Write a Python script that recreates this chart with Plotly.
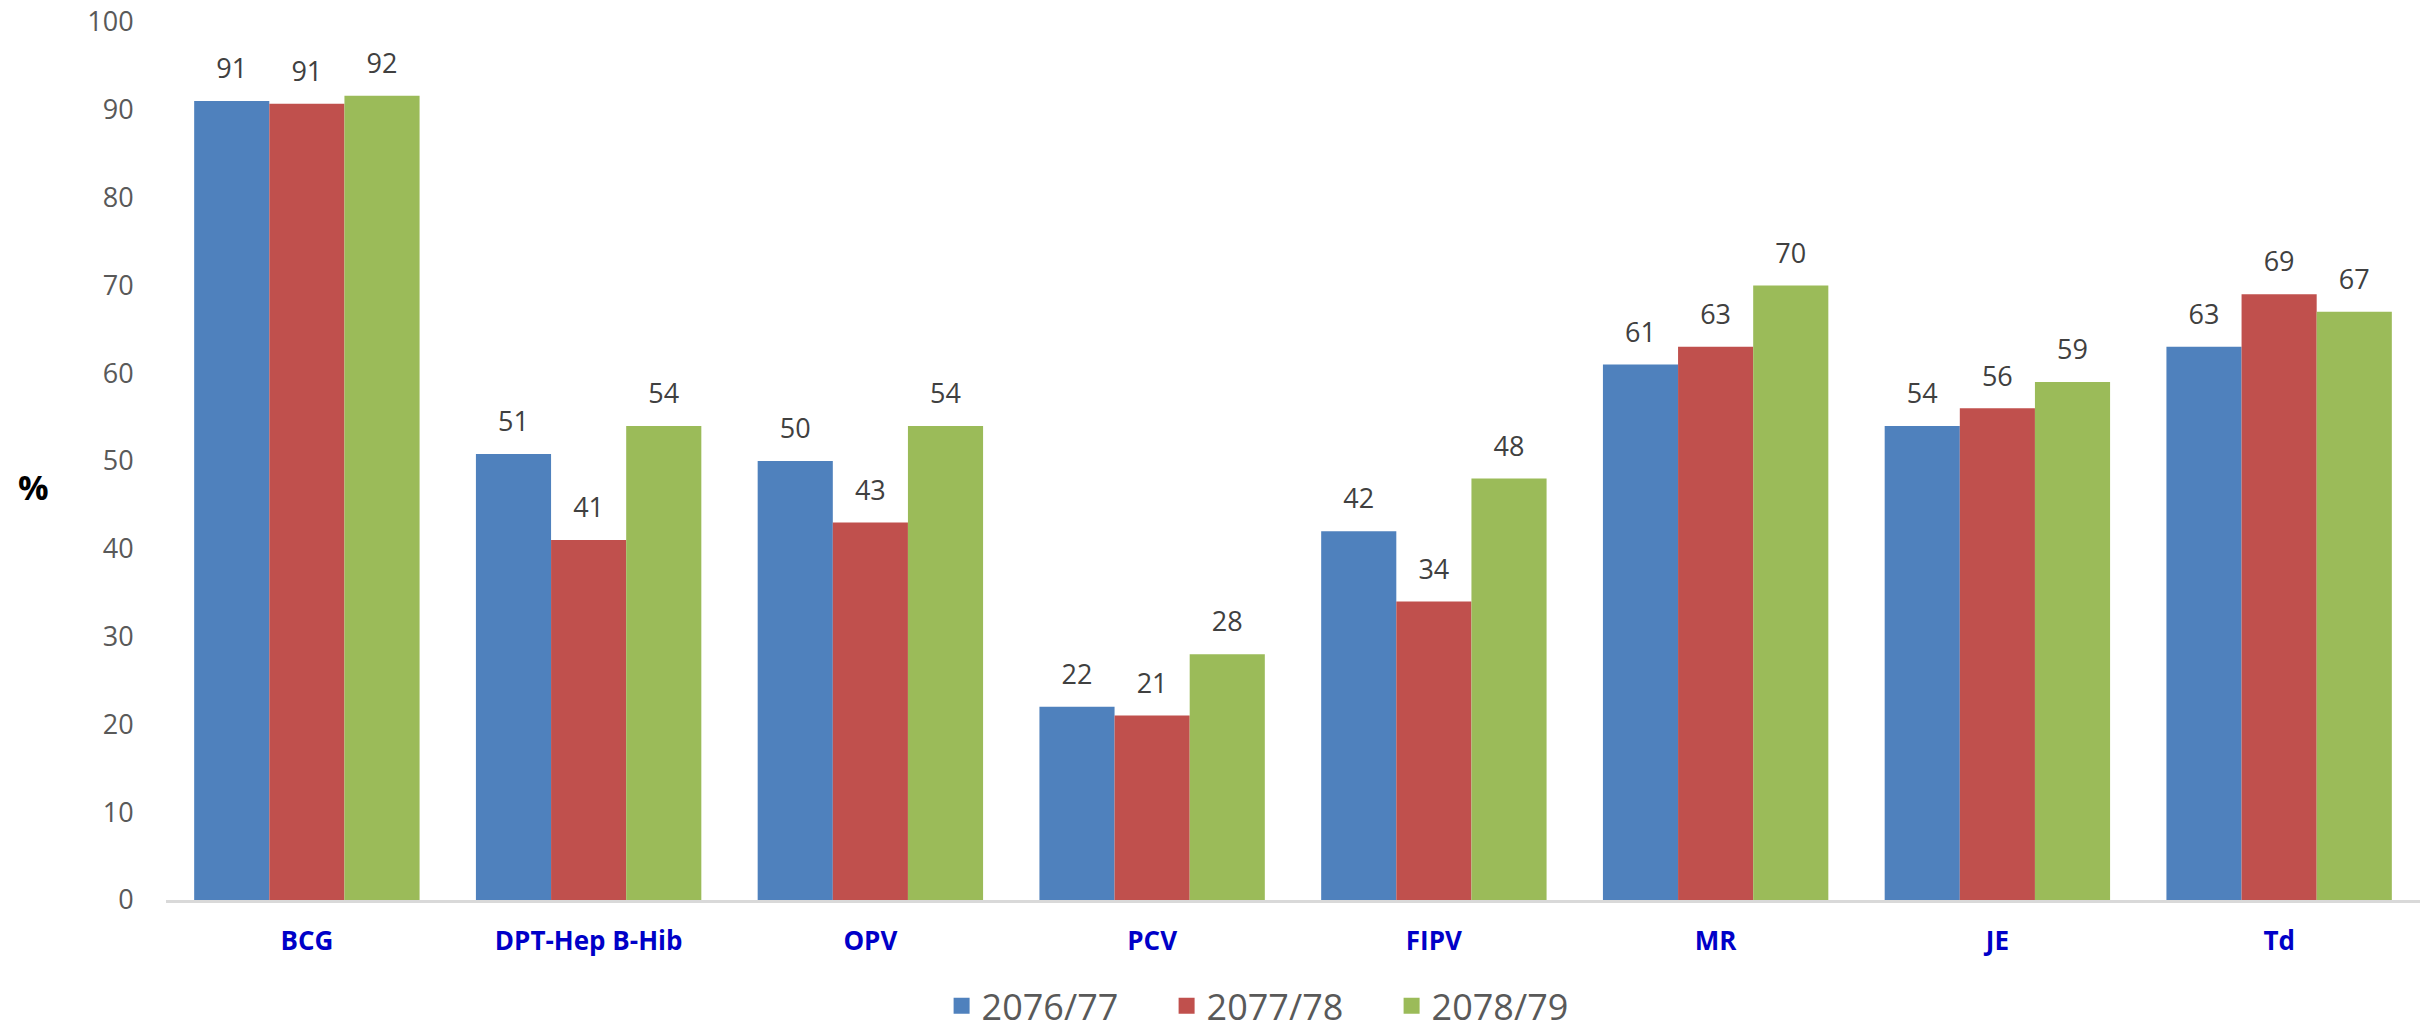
import plotly.graph_objects as go

categories = ["BCG", "DPT-Hep B-Hib", "OPV", "PCV", "FIPV", "MR", "JE", "Td"]
series_names = ["2076/77", "2077/78", "2078/79"]
v_2076 = [91.0, 50.8, 50, 22, 42, 61, 54, 63]
v_2077 = [90.7, 41, 43, 21, 34, 63, 56, 69]
v_2078 = [91.6, 54, 54, 28, 48, 70, 59, 67]
colors = ["#4F81BD", "#C0504D", "#9BBB59"]

fig = go.Figure()
all_vals = [v_2076, v_2077, v_2078]
for name, vals, col in zip(series_names, all_vals, colors):
    fig.add_trace(go.Bar(
        x=categories, y=vals, name=name, showlegend=False,
        marker=dict(color=col, line=dict(width=0)),
        hoverinfo="skip",
    ))
# data labels aligned with grouped bars
for name, vals in zip(series_names, all_vals):
    fig.add_trace(go.Scatter(
        x=categories, y=vals, mode="text+markers", showlegend=False,
        texttemplate="%{y:.0f}", textposition="top center",
        textfont=dict(family="Open Sans", size=27, color="#404040"),
        marker=dict(size=24, color="rgba(0,0,0,0)"), cliponaxis=False, hoverinfo="skip",
    ))
# legend entries (large square swatches)
for name, col in zip(series_names, colors):
    fig.add_trace(go.Scatter(
        x=[None], y=[None], mode="markers", name=name, showlegend=True,
        marker=dict(symbol="square", size=24, color=col),
        xaxis="x2", yaxis="y2",
    ))

fig.update_layout(
    width=2427, height=1030,
    margin=dict(l=166, r=7, t=22, b=130, autoexpand=False),
    paper_bgcolor="white", plot_bgcolor="white",
    barmode="group", bargap=0.2, bargroupgap=0,
    scattermode="group", scattergap=0.2,
    showlegend=True,
    legend=dict(orientation="h", x=0.3441, xanchor="left", y=-0.1207, yanchor="middle",
                font=dict(family="Open Sans", size=36, color="#595959"),
                entrywidth=180, itemsizing="trace"),
    xaxis=dict(showline=True, linecolor="#D9D9D9", linewidth=3,
               ticks="outside", ticklen=16, tickcolor="rgba(0,0,0,0)",
               tickfont=dict(family="Open Sans", size=26, color="#0000C8", weight="bold"),
               showgrid=False, automargin=False),
    yaxis=dict(range=[0, 100], dtick=10, showgrid=False, showline=False, zeroline=False,
               ticks="outside", ticklen=26, tickcolor="rgba(0,0,0,0)",
               tickfont=dict(family="Open Sans", size=27, color="#595959"), automargin=False),
    xaxis2=dict(overlaying="x", visible=False),
    yaxis2=dict(overlaying="y", visible=False),
    annotations=[dict(text="<b>%</b>", xref="paper", yref="paper", x=-0.059, y=0.47,
                      xanchor="center", yanchor="middle", showarrow=False,
                      font=dict(family="Open Sans", size=34, color="black"))],
)

fig.write_html("out.html", config={"displayModeBar": False},
               post_script="document.body.style.margin='0';document.body.style.overflow='hidden';")
